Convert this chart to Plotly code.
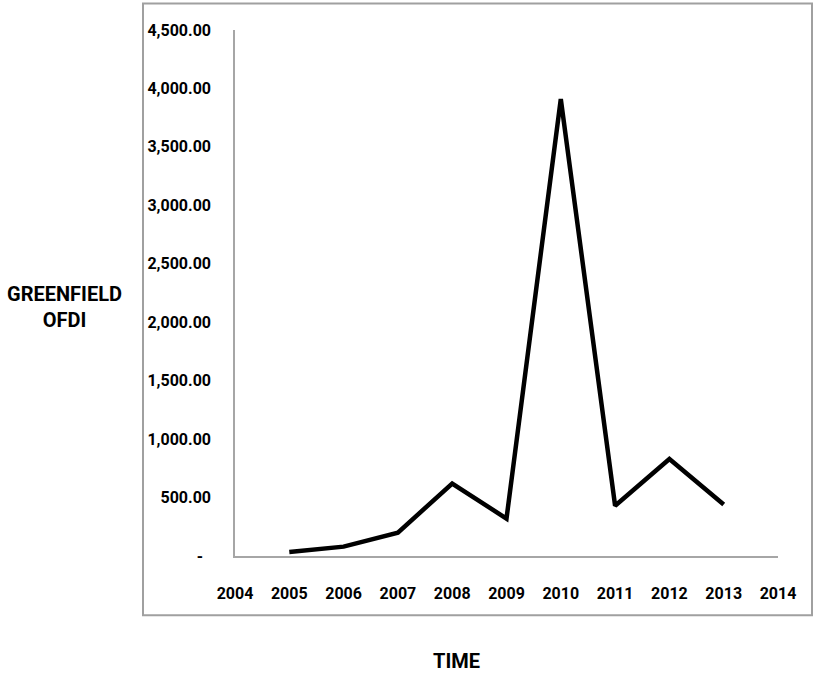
import plotly.graph_objects as go

# Greenfield outward FDI by year
years = [2005, 2006, 2007, 2008, 2009, 2010, 2011, 2012, 2013]
greenfield_ofdi = [35, 80, 200, 620, 320, 3910, 430, 830, 440]

# Axis ticks
x_ticks = list(range(2004, 2015))
y_ticks = [0, 500, 1000, 1500, 2000, 2500, 3000, 3500, 4000, 4500]
y_ticktext = ["-\u00a0\u00a0"] + [f"{v:,.2f}" for v in y_ticks[1:]]

FONT = "Roboto, Liberation Sans, sans-serif"

W, H = 814, 680
L, R, T, B = 235, 36, 29.5, 124.3
pw, ph = W - L - R, H - T - B


def px_x(x):
    return (x - L) / pw


def px_y(y):
    return (H - B - y) / ph


fig = go.Figure(
    go.Scatter(
        x=years,
        y=greenfield_ofdi,
        mode="lines",
        line=dict(color="black", width=4.5),
        hoverinfo="x+y",
    )
)

fig.update_layout(
    width=W,
    height=H,
    margin=dict(l=L, r=R, t=T, b=B),
    paper_bgcolor="white",
    plot_bgcolor="white",
    showlegend=False,
    font=dict(family=FONT, color="black", size=16),
    xaxis=dict(
        range=[2004, 2014],
        tickvals=x_ticks,
        ticktext=[str(v) for v in x_ticks],
        showgrid=False,
        zeroline=False,
        showline=True,
        linecolor="#a6a6a6",
        linewidth=1.5,
        ticks="",
        ticklabelstandoff=22,
        tickfont=dict(family=FONT, size=16, weight="bold"),
    ),
    yaxis=dict(
        range=[0, 4500],
        tickvals=y_ticks,
        ticktext=y_ticktext,
        showgrid=False,
        zeroline=False,
        showline=True,
        linecolor="#a6a6a6",
        linewidth=1.5,
        ticks="",
        ticklabelstandoff=19,
        tickfont=dict(family=FONT, size=16, weight="bold"),
    ),
    shapes=[
        dict(
            type="rect",
            xref="paper",
            yref="paper",
            x0=px_x(143),
            x1=px_x(812),
            y0=px_y(615),
            y1=px_y(3),
            line=dict(color="#a0a0a0", width=2),
            fillcolor="rgba(0,0,0,0)",
            layer="below",
        )
    ],
    annotations=[
        dict(
            text="<b>GREENFIELD</b><br><b>OFDI</b>",
            xref="paper",
            yref="paper",
            x=px_x(64),
            y=px_y(307),
            showarrow=False,
            align="center",
            font=dict(family=FONT, size=20, color="black"),
            xanchor="center",
            yanchor="middle",
        ),
        dict(
            text="<b>TIME</b>",
            xref="paper",
            yref="paper",
            x=px_x(456),
            y=px_y(661),
            showarrow=False,
            font=dict(family=FONT, size=20, color="black"),
            xanchor="center",
            yanchor="middle",
        ),
    ],
)

fig.write_html("out.html")
